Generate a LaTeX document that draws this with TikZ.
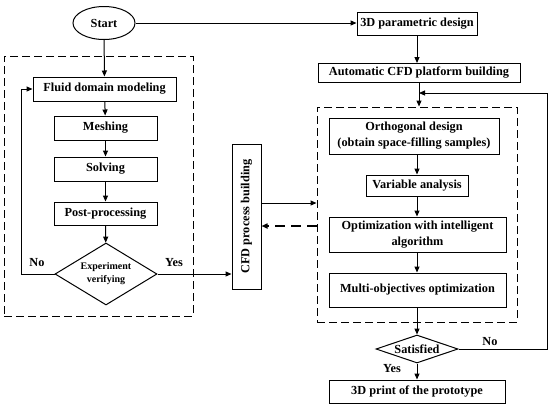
\documentclass[tikz,border=0pt]{standalone}
\usepackage{fontspec}
\setmainfont{Liberation Serif}
\usetikzlibrary{shapes.geometric,arrows.meta}
\begin{document}
\begin{tikzpicture}[x=1pt,y=-1pt,
  every node/.style={font=\bfseries\fontsize{12.3}{16}\selectfont, inner sep=0pt},
  box/.style={draw, line width=1pt, rectangle, align=center},
  dbox/.style={draw, line width=1pt, dash pattern=on 8pt off 4pt},
  dia/.style={draw, line width=1pt, diamond, align=center},
  arr/.style={line width=1pt, -{Triangle[length=6pt,width=5pt]}},
  lbl/.style={font=\bfseries\fontsize{12.3}{14}\selectfont}]
\useasboundingbox (0,0) rectangle (550,408);
% dashed frames
\node[dbox, minimum width=189pt, minimum height=260pt] (ldash) at (98.5,186) {};
\node[dbox, minimum width=200pt, minimum height=215pt] (rdash) at (417,214.5) {};
% left column
\node[draw, line width=1pt, ellipse, minimum width=62pt, minimum height=33pt] (start) at (104,23) {Start};
\node[box, minimum width=143pt, minimum height=24pt] (fluid) at (104.5,89) {Fluid domain modeling};
\node[box, minimum width=103pt, minimum height=24pt] (mesh) at (105.5,128) {Meshing};
\node[box, minimum width=103pt, minimum height=24pt] (solve) at (105.5,169) {Solving};
\node[box, minimum width=103pt, minimum height=23pt] (post) at (105.5,213.5) {Post-processing};
\node[dia, aspect=1.65, minimum width=102pt, minimum height=62pt, font=\bfseries\fontsize{10}{13}\selectfont] (exp) at (106,274) {Experiment\\verifying};
% middle
\node[box, rotate=90, minimum width=145pt, minimum height=29pt] (cfd) at (246.5,216.5) {CFD process building};
% right column
\node[box, minimum width=120pt, minimum height=23pt] (param) at (417,23.5) {3D parametric design};
\node[box, minimum width=202pt, minimum height=19pt] (auto) at (419,73) {Automatic CFD platform building};
\node[box, minimum width=170pt, minimum height=36pt] (orth) at (414,136) {Orthogonal design\\(obtain space-filling samples)};
\node[box, minimum width=102pt, minimum height=21pt] (var) at (417,185.5) {Variable analysis};
\node[box, minimum width=177pt, minimum height=35pt] (opt) at (417.5,234.5) {Optimization with intelligent\\algorithm};
\node[box, minimum width=177pt, minimum height=34pt] (multi) at (417.5,290) {Multi-objectives optimization};
\node[dia, aspect=2.9, minimum width=82pt, minimum height=28pt] (sat) at (417,349) {Satisfied};
\node[box, minimum width=176pt, minimum height=23pt] (print) at (417,391.5) {3D print of the prototype};
% coordinates
\coordinate (y1) at (0,203);
\coordinate (y2) at (0,226);
\coordinate (fb) at (547,93);
\coordinate (nl) at (21,0);
% connectors
\draw[arr] (start) -- (fluid);
\draw[arr] (start.east) -- (start.east -| param.west);
\draw[arr] (fluid) -- (mesh);
\draw[arr] (mesh) -- (solve);
\draw[arr] (solve) -- (post);
\draw[arr] (post) -- (exp);
\draw[arr] (exp.west) -| (nl |- fluid.west) -- (fluid.west);
\draw[arr] (exp.east) -- (exp.east -| cfd.north);
\draw[arr] (param) -- (param.south |- auto.north);
\draw[arr] (auto.south) -- (auto.south |- rdash.north);
\draw[arr] (cfd.south |- y1) -- (rdash.west |- y1);
\draw[arr, line width=1.5pt, dash pattern=on 10pt off 6pt] (rdash.west |- y2) -- (cfd.south |- y2);
\draw[arr] (orth.south -| var.north) -- (var);
\draw[arr] (var) -- (var.south |- opt.north);
\draw[arr] (var.south |- opt.south) -- (var.south |- multi.north);
\draw[arr] (var.south |- multi.south) -- (sat);
\draw[arr] (sat) -- (sat.south |- print.north);
\draw[arr] (sat.east) -| (fb) -- (auto.south |- fb);
% labels
\node[lbl] (lno) at (37,263) {No};
\node[lbl] (lyes) at (174,263) {Yes};
\node[lbl] (rno) at (490,342) {No};
\node[lbl] (ryes) at (392,369) {Yes};
\end{tikzpicture}
\end{document}
